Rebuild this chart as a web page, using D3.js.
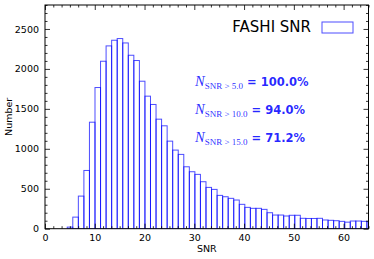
<!DOCTYPE html>
<html>
<head>
<meta charset="utf-8">
<script src="https://cdn.jsdelivr.net/npm/d3@7"></script>
<style>
  body { margin: 0; background: #fff; }
  svg { display: block; }
  text { font-family: "DejaVu Sans", sans-serif; }
</style>
</head>
<body>
<div id="chart"></div>
<script>
// histogram of SNR, bins of equal width starting at binStart
const binStart = 4.47;
const binWidth = 1.115;
const counts = [20, 145, 408, 729, 1333, 1767, 2096, 2288, 2359, 2380,
  2325, 2171, 2105, 1846, 1659, 1555, 1371, 1288, 1096, 984,
  930, 775, 713, 680, 588, 517, 492, 417, 400, 380,
  359, 305, 267, 255, 255, 242, 200, 171, 171, 159,
  168, 168, 130, 128, 128, 130, 109, 105, 100, 92,
  82, 96, 96, 92, 88];

const xTicks = [0, 10, 20, 30, 40, 50, 60];
const yTicks = [0, 500, 1000, 1500, 2000, 2500];
const legendLabel = "FASHI SNR";
const thresholds = ["5.0", "10.0", "15.0"];
const fractions = ["100.0%", "94.0%", "71.2%"];

const W = 374, H = 259;
const pL = 45, pR = 368.5, pT = 5, pB = 228.7;

const svg = d3.select("#chart").append("svg")
    .attr("width", W)
    .attr("height", H);

const x = d3.scaleLinear().domain([0, 65]).range([pL, pR]);
const y = d3.scaleLinear().domain([0, 2800]).range([pB, pT]);

svg.append("clipPath").attr("id", "clip")
  .append("rect")
    .attr("x", pL).attr("y", pT)
    .attr("width", pR - pL).attr("height", pB - pT);

const bins = counts.map((c, i) => ({
  x0: binStart + i * binWidth,
  x1: binStart + (i + 1) * binWidth,
  n: c
}));

svg.append("g")
    .attr("clip-path", "url(#clip)")
  .selectAll("rect")
  .data(bins)
  .join("rect")
    .attr("x", d => x(d.x0))
    .attr("y", d => y(d.n))
    .attr("width", d => x(d.x1) - x(d.x0))
    .attr("height", d => y(0) - y(d.n))
    .attr("fill", "none")
    .attr("stroke", "#0000ff")
    .attr("stroke-opacity", 0.7)
    .attr("stroke-width", 1);

// ticks, all pointing inward, on every side
const xMinor = d3.range(0, 65.01, 10 / 6).filter(v => Math.abs(v / 10 - Math.round(v / 10)) > 1e-6);
const yMinor = d3.range(0, 2801, 100).filter(v => v % 500 !== 0);

const bx = d3.axisBottom(x).tickValues(xTicks).tickFormat(d3.format("d")).tickSizeInner(-5).tickSizeOuter(0).tickPadding(6);
const tx = d3.axisTop(x).tickValues(xTicks).tickFormat("").tickSizeInner(-5).tickSizeOuter(0);
const ly = d3.axisLeft(y).tickValues(yTicks).tickFormat(d3.format("d")).tickSizeInner(-5).tickSizeOuter(0).tickPadding(6);
const ry = d3.axisRight(y).tickValues(yTicks).tickFormat("").tickSizeInner(-5).tickSizeOuter(0);

const bxm = d3.axisBottom(x).tickValues(xMinor).tickFormat("").tickSizeInner(-2.5).tickSizeOuter(0);
const txm = d3.axisTop(x).tickValues(xMinor).tickFormat("").tickSizeInner(-2.5).tickSizeOuter(0);
const lym = d3.axisLeft(y).tickValues(yMinor).tickFormat("").tickSizeInner(-2.5).tickSizeOuter(0);
const rym = d3.axisRight(y).tickValues(yMinor).tickFormat("").tickSizeInner(-2.5).tickSizeOuter(0);

[[bx, `translate(0,${pB})`], [bxm, `translate(0,${pB})`],
 [tx, `translate(0,${pT})`], [txm, `translate(0,${pT})`],
 [ly, `translate(${pL},0)`], [lym, `translate(${pL},0)`],
 [ry, `translate(${pR},0)`], [rym, `translate(${pR},0)`]].forEach(([ax, tr]) => {
  const g = svg.append("g").attr("transform", tr).call(ax);
  g.select(".domain").remove();
  g.selectAll("line").attr("stroke", "#000").attr("stroke-width", 0.8);
  g.selectAll("text").attr("font-size", 9.5).attr("fill", "#000")
    .attr("font-family", "DejaVu Sans");
});

svg.append("rect")
    .attr("x", pL).attr("y", pT)
    .attr("width", pR - pL).attr("height", pB - pT)
    .attr("fill", "none")
    .attr("stroke", "#000")
    .attr("stroke-width", 1);

svg.append("text")
    .attr("x", (pL + pR) / 2).attr("y", 252)
    .attr("text-anchor", "middle")
    .attr("font-size", 9.5)
    .text("SNR");

svg.append("text")
    .attr("transform", `translate(12,${(pT + pB) / 2}) rotate(-90)`)
    .attr("text-anchor", "middle")
    .attr("font-size", 9.5)
    .text("Number");

// legend
svg.append("text")
    .attr("x", 311).attr("y", 32)
    .attr("text-anchor", "end")
    .attr("font-size", 15)
    .text(legendLabel);
svg.append("rect")
    .attr("x", 322).attr("y", 22)
    .attr("width", 31).attr("height", 11)
    .attr("fill", "none")
    .attr("stroke", "#0000ff")
    .attr("stroke-opacity", 0.7);

// annotations
thresholds.forEach((t, i) => {
  const yy = 86 + i * 28;
  const txt = svg.append("text")
      .attr("x", 195).attr("y", yy)
      .attr("fill", "#0000ff")
      .attr("fill-opacity", 0.85);
  txt.append("tspan")
      .attr("font-family", "Liberation Serif")
      .attr("font-style", "italic")
      .attr("font-size", 14.5)
      .text("N");
  txt.append("tspan")
      .attr("font-family", "Liberation Serif")
      .attr("font-size", 9)
      .attr("dy", 3)
      .text(`SNR > ${t}`);
  txt.append("tspan")
      .attr("font-family", "DejaVu Sans")
      .attr("font-weight", "bold")
      .attr("font-size", 11.5)
      .attr("dy", -3)
      .text(` = ${fractions[i]}`);
});
</script>
</body>
</html>
